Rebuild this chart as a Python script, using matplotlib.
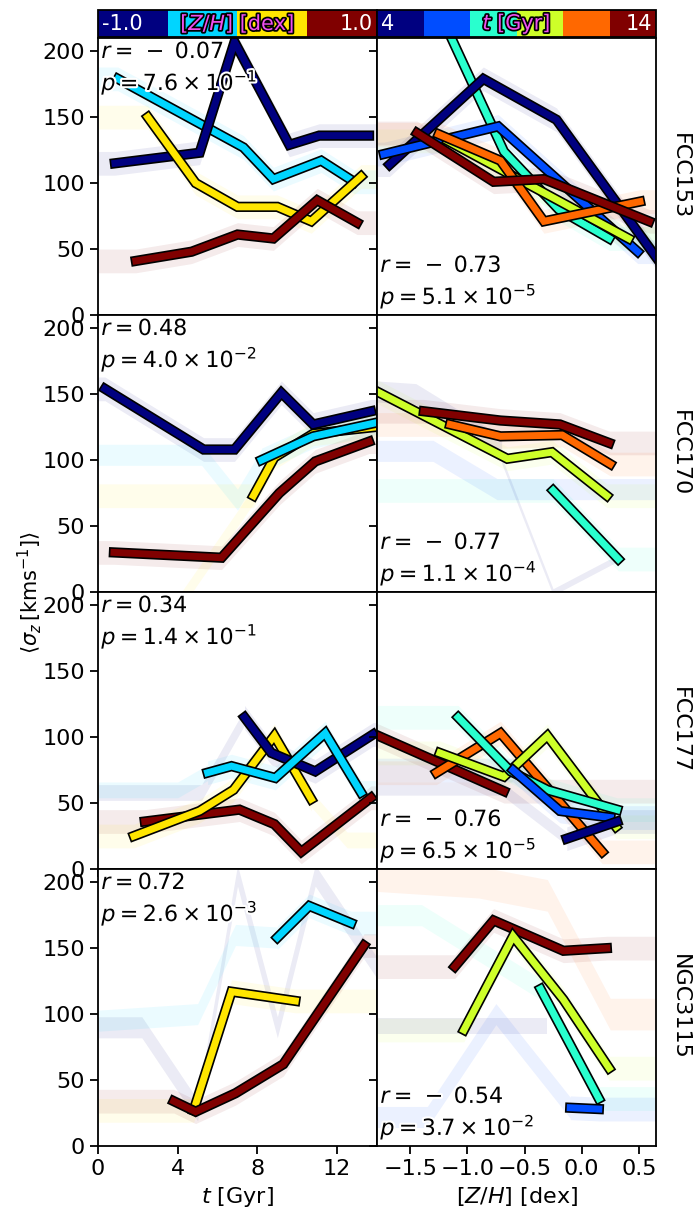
import numpy as np
import matplotlib
matplotlib.use('Agg')
import matplotlib.pyplot as plt
from matplotlib import patheffects as pe
from matplotlib.cm import ScalarMappable
from matplotlib.colors import ListedColormap, BoundaryNorm

# galaxies (one row each)
galaxies = ['FCC153', 'FCC170', 'FCC177', 'NGC3115']

# correlation numbers printed in the panels
r_age = ['0.07', '0.48', '0.34', '0.72']
r_age_neg = [True, False, False, False]
p_age = ['7.6', '4.0', '1.4', '2.6']
pexp_age = [-1, -2, -1, -3]
r_met = ['0.73', '0.77', '0.76', '0.54']
r_met_neg = [True, True, True, True]
p_met = ['5.1', '1.1', '6.5', '3.7']
pexp_met = [-5, -4, -5, -2]

# left column: sigma_z vs age, one line per [Z/H] bin (0..3)
fcc153_t = [[1.0, 7.3, 8.8, 11.2, 12.85], [0.85, 5.1, 6.85, 9.6, 11.1, 13.6],
            [2.5, 4.9, 7.0, 9.0, 10.7, 13.2], [1.9, 4.7, 7.0, 8.8, 11.0, 13.0]]
fcc153_t_sig = [[179, 127, 103, 117, 101], [115, 123, 207, 129, 136, 136],
                [150, 100, 82, 82, 71, 105], [41, 48, 61, 58, 87, 70]]
fcc153_t_bin = [1, 0, 2, 3]
fcc153_t_ghost = []

fcc170_t = [[0.8, 6.2, 9.1, 10.9, 13.6], [0.35, 5.3, 6.85, 9.2, 10.8, 13.7],
            [7.8, 8.85, 10.8, 13.85], [8.2, 10.8, 13.85]]
fcc170_t_sig = [[30, 26, 75, 99, 114], [154, 108, 108, 151, 127, 137],
                [73, 102, 120, 125], [100, 118, 128]]
fcc170_t_bin = [3, 0, 2, 1]
fcc170_t_ghost = [(1, [0, 5.2, 7.0, 8.2], [104, 104, 70, 100], 8),
                  (2, [4.0, 7.8], [-10, 73], 6)]

fcc177_t = [[2.35, 7.1, 8.85, 10.2, 13.7], [1.8, 5.1, 6.8, 8.85, 10.7],
            [7.35, 8.7, 10.9, 13.8], [5.5, 6.7, 8.9, 11.4, 13.2]]
fcc177_t_sig = [[36, 45, 34, 13, 54], [25, 44, 60, 101, 53],
                [115, 88, 74, 102], [73, 78, 69, 103, 58]]
fcc177_t_bin = [3, 2, 0, 1]
fcc177_t_ghost = [(0, [0, 5.2, 7.35], [58, 58, 115], 6),
                  (1, [0, 4.0, 5.5], [60, 60, 73], 6),
                  (2, [10.7, 12.5, 14], [53, 22, 22], 6)]

ngc3115_t = [[9.0, 10.6, 12.7], [4.8, 6.7, 9.9], [3.8, 4.9, 6.9, 9.3, 13.35]]
ngc3115_t_sig = [[158, 182, 169], [27, 117, 110], [34, 26, 40, 62, 152]]
ngc3115_t_bin = [1, 2, 3]
ngc3115_t_ghost = [(0, [0, 2.2, 5.0, 7.0, 9.0, 10.9, 14], [90, 90, 27, 205, 90, 205, 135], 8),
                   (1, [0, 5.0, 6.9, 9.0], [95, 100, 160, 158], 8)]

# right column: sigma_z vs [Z/H], one line per age bin (0..5)
fcc153_z = [[-1.3, -0.68, -0.2, 0.24], [-1.68, -0.86, -0.22, 0.75], [-1.73, -0.73, 0.49],
            [-1.17, 0.41], [-1.25, -0.71, -0.33, 0.51], [-1.44, -0.77, -0.33, 0.59]]
fcc153_z_sig = [[240, 124, 80, 58], [114, 179, 148, 32], [122, 143, 48],
                [132, 58], [137, 117, 71, 86], [138, 101, 103, 71]]
fcc153_z_bin = [2, 0, 1, 3, 4, 5]
fcc153_z_ghost = []

fcc170_z = [[-0.25, 0.32], [-1.79, -0.65, -0.26, 0.22],
            [-1.15, -0.71, -0.17, 0.25], [-1.38, -0.71, -0.19, 0.24]]
fcc170_z_sig = [[77, 25], [152, 101, 106, 73], [127, 118, 119, 97], [137, 130, 127, 113]]
fcc170_z_bin = [2, 3, 4, 5]
fcc170_z_ghost = [(0, [-1.79, -1.45, -0.7], [152, 150, 110], 8),
                  (0, [-0.7, -0.25, 0.3], [100, 0, 25], 2.5),
                  (1, [-1.79, -1.3, -0.74, 0.65], [107, 107, 78, 78], 8)]

fcc177_z = [[-1.78, -0.68], [-1.27, -0.71, 0.18], [-1.24, -0.68, -0.3, 0.3],
            [-1.08, -0.62, -0.3, 0.31], [-0.6, -0.19, 0.25], [-0.13, 0.31]]
fcc177_z_sig = [[101, 59], [73, 103, 13], [88, 70, 101, 32],
                [115, 74, 60, 45], [75, 44, 39], [23, 36]]
fcc177_z_bin = [5, 4, 3, 2, 1, 0]
fcc177_z_ghost = [(0, [-1.79, -0.7, -0.13], [61, 61, 23], 5)]

ngc3115_z = [[-1.11, -0.77, -0.16, 0.22], [-1.03, -0.6, -0.16, 0.24],
             [-0.36, 0.15], [-0.1, 0.15]]
ngc3115_z_sig = [[136, 171, 148, 150], [88, 159, 111, 59], [119, 36], [29, 28]]
ngc3115_z_bin = [5, 3, 2, 1]
ngc3115_z_ghost = [(4, [-1.79, -0.9, -0.3, 0.25, 0.65], [205, 200, 190, 100, 100], 12),
                   (2, [-1.79, -1.4, -0.36], [175, 175, 119], 8),
                   (1, [-1.79, -1.35, -0.75, -0.1], [22, 22, 100, 29], 8),
                   (0, [-1.79, -0.3], [91, 91], 6)]

age_panels = [(fcc153_t, fcc153_t_sig, fcc153_t_bin, fcc153_t_ghost),
              (fcc170_t, fcc170_t_sig, fcc170_t_bin, fcc170_t_ghost),
              (fcc177_t, fcc177_t_sig, fcc177_t_bin, fcc177_t_ghost),
              (ngc3115_t, ngc3115_t_sig, ngc3115_t_bin, ngc3115_t_ghost)]
met_panels = [(fcc153_z, fcc153_z_sig, fcc153_z_bin, fcc153_z_ghost),
              (fcc170_z, fcc170_z_sig, fcc170_z_bin, fcc170_z_ghost),
              (fcc177_z, fcc177_z_sig, fcc177_z_bin, fcc177_z_ghost),
              (ngc3115_z, ngc3115_z_sig, ngc3115_z_bin, ngc3115_z_ghost)]

W, H = 698, 1211
fig = plt.figure(figsize=(W / 100, H / 100), dpi=100)


def box(x0, y0, w, h):
    return [x0 / W, 1 - (y0 + h) / H, w / W, h / H]


jet = plt.get_cmap('jet')
met_cols = jet(np.linspace(0, 1, 4))
age_cols = jet(np.linspace(0, 1, 6))

LW = 5.0
HW = 9
FS = 15
ALPHA = 0.08
line_fx = [pe.Stroke(linewidth=LW + 2.4, foreground='k'), pe.Normal()]
white_fx = [pe.withStroke(linewidth=3, foreground='white')]


def draw_panel(ax, xs_all, ys_all, bins, ghosts, cols, xlim):
    for xs, ys, b in zip(xs_all, ys_all, bins):
        # extend the band flat to the axes edges, unless a ghost band covers that side
        left = not any(g[0] == b and g[1][0] <= xlim[0] for g in ghosts)
        right = not any(g[0] == b and g[1][-1] >= xlim[1] for g in ghosts)
        bx = ([xlim[0]] if left else []) + xs + ([xlim[1]] if right else [])
        by = ([ys[0]] if left else []) + ys + ([ys[-1]] if right else [])
        by = np.array(by, dtype=float)
        ax.fill_between(bx, by - HW, by + HW, color=cols[b], alpha=ALPHA, lw=0)
    for b, xs, ys, hw in ghosts:
        ys = np.array(ys, dtype=float)
        ax.fill_between(xs, ys - hw, ys + hw, color=cols[b], alpha=ALPHA, lw=0)
    for xs, ys, b in zip(xs_all, ys_all, bins):
        ax.plot(xs, ys, color=cols[b], lw=LW, path_effects=line_fx,
                solid_joinstyle='miter')
    ax.set_xlim(*xlim)
    ax.set_ylim(0, 210)
    ax.set_yticks([0, 50, 100, 150, 200])
    ax.tick_params(direction='out', length=6, width=1.3, labelsize=16)
    for s in ax.spines.values():
        s.set_linewidth(1.3)


def stat_text(r, neg, p, pexp):
    rs = '= \\,-\\;' + r if neg else '= ' + r
    return '$r %s$\n$p = %s \\times 10^{%d}$' % (rs, p, pexp)


t_lim = (0, 14)
z_lim = (-1.79, 0.65)
for i, g in enumerate(galaxies):
    top = 38 + 277 * i
    axl = fig.add_axes(box(98, top, 279, 277))
    axr = fig.add_axes(box(377, top, 279, 277))
    draw_panel(axl, *age_panels[i], met_cols, t_lim)
    draw_panel(axr, *met_panels[i], age_cols, z_lim)
    axl.set_xticks([0, 4, 8, 12])
    axr.set_xticks([-1.5, -1.0, -0.5, 0.0, 0.5])
    axr.tick_params(labelleft=False)
    if i < 3:
        axl.tick_params(labelbottom=False)
        axr.tick_params(labelbottom=False)
    else:
        axl.set_xlabel(r'$t$ [Gyr]', fontsize=16)
        axr.set_xlabel(r'$[Z/H]$ [dex]', fontsize=16)
    axl.text(0.012, 0.985, stat_text(r_age[i], r_age_neg[i], p_age[i], pexp_age[i]),
             transform=axl.transAxes, va='top', ha='left', fontsize=16,
             linespacing=1.25, path_effects=white_fx, zorder=10)
    axr.text(0.012, 0.015, stat_text(r_met[i], r_met_neg[i], p_met[i], pexp_met[i]),
             transform=axr.transAxes, va='bottom', ha='left', fontsize=16,
             linespacing=1.25, path_effects=white_fx, zorder=10)
    fig.text(680 / W, 1 - (top + 138) / H, g, rotation=270, va='center', ha='center',
             fontsize=16)

fig.text(30 / W, 1 - 592 / H, r'$\langle\sigma_z\,[\mathrm{km s^{-1}}]\rangle$',
         rotation=90, va='center', ha='center', fontsize=FS)

# colour bars on top
mag_fx = [pe.withStroke(linewidth=2.5, foreground='black')]
cbars = [(98, np.linspace(-1, 1, 5), met_cols, '-1.0', '1.0', r'$[Z/H]$ [dex]'),
         (377, np.linspace(4, 14, 7), age_cols, '4', '14', r'$t$ [Gyr]')]
for x0, bounds, cols, lo, hi, lab in cbars:
    cax = fig.add_axes(box(x0, 10, 279, 27))
    sm = ScalarMappable(norm=BoundaryNorm(bounds, len(cols)), cmap=ListedColormap(cols))
    cb = fig.colorbar(sm, cax=cax, orientation='horizontal')
    cb.set_ticks([])
    cb.minorticks_off()
    cb.outline.set_linewidth(1.3)
    cax.text(0.015, 0.5, lo, transform=cax.transAxes, color='white', va='center',
             ha='left', fontsize=FS)
    cax.text(0.985, 0.5, hi, transform=cax.transAxes, color='white', va='center',
             ha='right', fontsize=FS)
    cax.text(0.5, 0.5, lab, transform=cax.transAxes, color='#f050f0', va='center',
             ha='center', fontsize=FS, path_effects=mag_fx)

fig.savefig('out.png', dpi=100)
